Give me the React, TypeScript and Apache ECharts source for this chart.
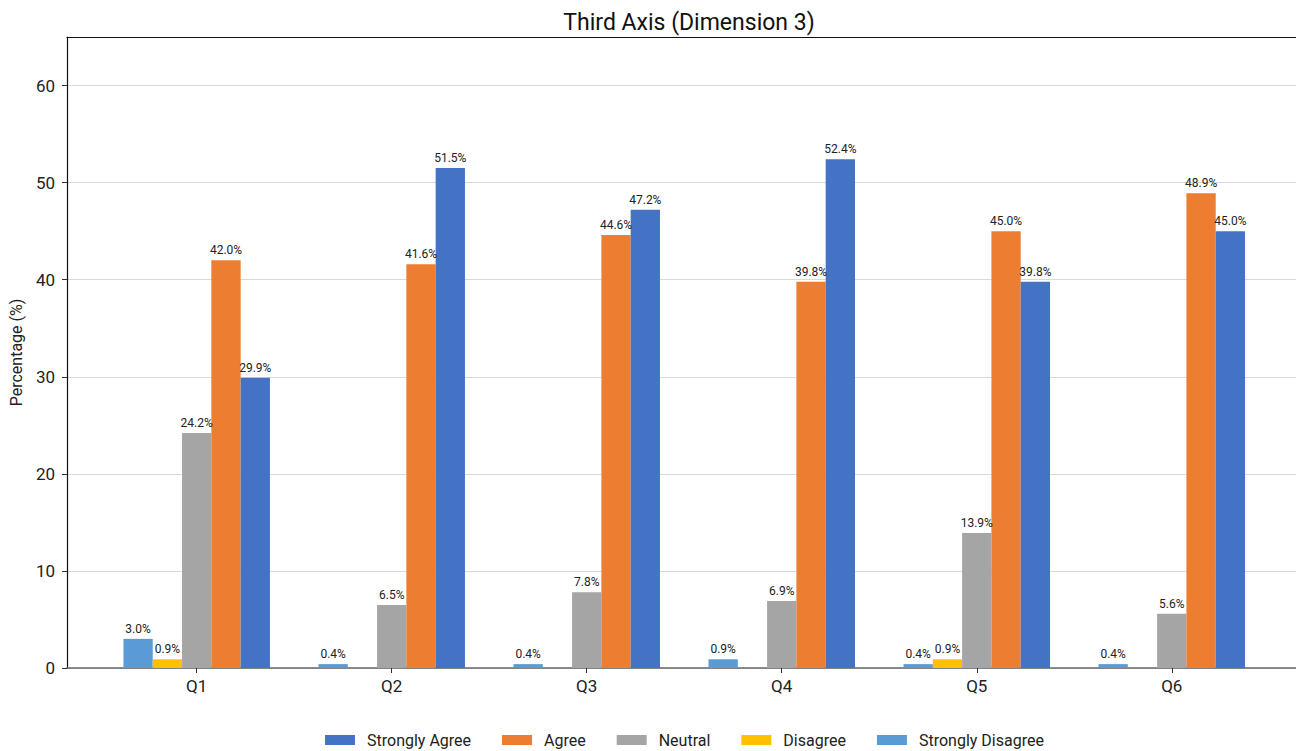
import React, { useEffect, useRef } from "react";
import * as echarts from "echarts";

// Survey questions and response shares (%) for the third axis
const questions = ["Q1", "Q2", "Q3", "Q4", "Q5", "Q6"];
const stronglyDisagree = [3.0, 0.4, 0.4, 0.9, 0.4, 0.4];
const disagree = [0.9, 0, 0, 0, 0.9, 0];
const neutral = [24.2, 6.5, 7.8, 6.9, 13.9, 5.6];
const agree = [42.0, 41.6, 44.6, 39.8, 45.0, 48.9];
const stronglyAgree = [29.9, 51.5, 47.2, 52.4, 39.8, 45.0];
const yTicks = [0, 10, 20, 30, 40, 50, 60];
const xTicks = [0, 1, 2, 3, 4, 5];

const FONT = "Roboto, 'Noto Sans', sans-serif";

const makeSeries = (name: string, values: number[], color: string) => ({
  name,
  type: "bar",
  barWidth: 29.3,
  barGap: "0%",
  data: values.map((v, i) => [i, v]),
  itemStyle: { color },
  label: {
    show: true,
    position: "top",
    distance: 4,
    fontFamily: FONT,
    fontSize: 12,
    color: "#222",
    formatter: (p: any) => (p.value[1] > 0 ? `${p.value[1].toFixed(1)}%` : ""),
  },
});

export default function App() {
  const ref = useRef<HTMLDivElement>(null);

  useEffect(() => {
    if (!ref.current) return;
    const chart = echarts.init(ref.current, null, { renderer: "svg" });
    chart.setOption({
      animation: false,
      backgroundColor: "#fff",
      textStyle: { fontFamily: FONT },
      title: {
        text: "Third Axis (Dimension 3)",
        left: 684,
        top: 6,
        textAlign: "center",
        textStyle: { fontFamily: FONT, fontSize: 23, fontWeight: "normal", color: "#111" },
      },
      legend: {
        data: ["Strongly Agree", "Agree", "Neutral", "Disagree", "Strongly Disagree"],
        left: 320,
        top: 727,
        itemWidth: 30,
        itemHeight: 10,
        itemGap: 31,
        icon: "rect",
        textStyle: { fontFamily: FONT, fontSize: 16, color: "#222", padding: [0, 0, 0, 7] },
      },
      grid: { left: 67, right: 0, top: 37, bottom: 83, outerBoundsMode: "none" },
      xAxis: [
        {
          type: "value",
          min: -0.665,
          max: 5.637,
          splitLine: { show: false },
          axisLine: { show: true, onZero: false, lineStyle: { color: "#666", width: 1.5 } },
          axisTick: {
            show: true,
            customValues: xTicks,
            length: 5,
            lineStyle: { color: "#333" },
          },
          axisLabel: {
            customValues: xTicks,
            formatter: (v: number) => questions[Math.round(v)] ?? "",
            fontFamily: FONT,
            fontSize: 17,
            color: "#222",
            margin: 9,
          },
        },
        {
          type: "value",
          position: "top",
          min: -0.665,
          max: 5.637,
          splitLine: { show: false },
          axisLine: { show: true, onZero: false, lineStyle: { color: "#111", width: 1.2 } },
          axisTick: { show: false },
          axisLabel: { show: false },
        },
      ],
      yAxis: {
        type: "value",
        min: 0,
        max: 65,
        interval: 10,
        name: "Percentage (%)",
        nameLocation: "middle",
        nameGap: 41,
        nameTextStyle: { fontFamily: FONT, fontSize: 16, color: "#222" },
        axisLine: { show: true, onZero: false, lineStyle: { color: "#111", width: 1.2 } },
        axisTick: { show: true, length: 5, customValues: yTicks, lineStyle: { color: "#333" } },
        axisLabel: {
          customValues: yTicks,
          fontFamily: FONT,
          fontSize: 17,
          color: "#222",
          margin: 12,
        },
        splitLine: { show: true, lineStyle: { color: "#d9d9d9", width: 1.2 } },
      },
      series: [
        makeSeries("Strongly Disagree", stronglyDisagree, "#5B9BD5"),
        makeSeries("Disagree", disagree, "#FFC000"),
        makeSeries("Neutral", neutral, "#A5A5A5"),
        makeSeries("Agree", agree, "#ED7D31"),
        makeSeries("Strongly Agree", stronglyAgree, "#4472C4"),
      ],
    });
    return () => chart.dispose();
  }, []);

  return (
    <div
      ref={ref}
      style={{ position: "fixed", left: 0, top: 0, width: 1296, height: 751 }}
    />
  );
}
